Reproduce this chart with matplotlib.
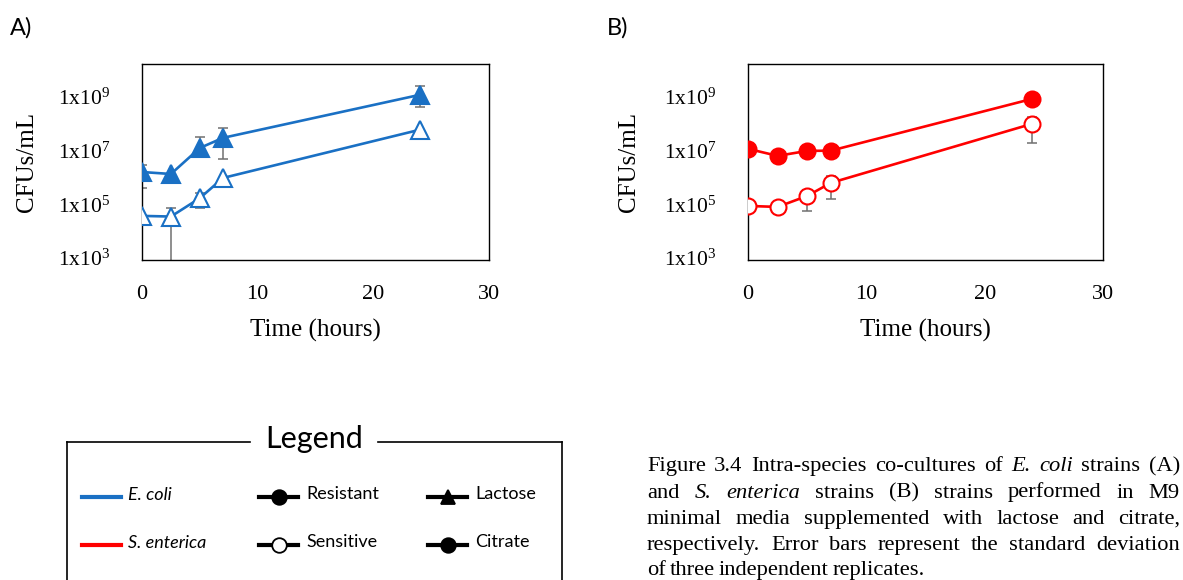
import numpy as np
import matplotlib
matplotlib.use("Agg")
from matplotlib import pyplot as plt
from matplotlib.lines import Line2D

plt.rcParams['font.family'] = ['Liberation Serif', 'DejaVu Serif']
plt.rcParams['mathtext.fontset'] = 'custom'
plt.rcParams['mathtext.rm'] = 'Liberation Serif'

W, H = 1183, 580

hours = [0, 2.5, 5, 7, 24]

# E. coli on lactose
ecoli_res = [1.6e6, 1.35e6, 1.26e7, 3.0e7, 1.2e9]
ecoli_res_lo = [1.2e6, 0, 5.0e6, 2.5e7, 7.7e8]
ecoli_res_hi = [1.2e6, 0, 2.0e7, 4.1e7, 1.4e9]
ecoli_sen = [3.7e4, 3.5e4, 1.7e5, 9.6e5, 6.0e7]
ecoli_sen_lo = [0, 3.5e4, 1.0e5, 0, 0]
ecoli_sen_hi = [0, 3.9e4, 1.0e5, 0, 0]

# S. enterica on citrate
sent_res = [1.17e7, 6.4e6, 9.8e6, 1.0e7, 8.5e8]
sent_res_lo = [0, 0, 0, 0, 0]
sent_res_hi = [0, 0, 0, 0, 0]
sent_sen = [8.7e4, 8.0e4, 2.05e5, 6.3e5, 1.0e8]
sent_sen_lo = [0, 0, 1.5e5, 4.7e5, 8.0e7]
sent_sen_hi = [0, 0, 1.5e5, 4.7e5, 8.0e7]

yticks = [1e3, 1e5, 1e7, 1e9]
ytick_labels = [r'$\mathregular{1x10^{3}}$', r'$\mathregular{1x10^{5}}$',
                r'$\mathregular{1x10^{7}}$', r'$\mathregular{1x10^{9}}$']
xticks = [0, 10, 20, 30]

BLUE = '#1a70c4'
RED = '#ff0000'
GREY = '#707070'

fig = plt.figure(figsize=(W / 100, H / 100), dpi=100)


def px_axes(x0, y0, x1, y1):
    return fig.add_axes([x0 / W, 1 - y1 / H, (x1 - x0) / W, (y1 - y0) / H])


def series(ax, y, lo, hi, color, marker, filled, ms):
    y = np.array(y)
    lo = np.array(lo)
    hi = np.array(hi)
    x = np.array(hours)
    m = (lo > 0) | (hi > 0)
    if m.any():
        ax.errorbar(x[m], y[m], yerr=[lo[m], hi[m]], fmt='none', ecolor=GREY,
                    elinewidth=1.1, capsize=3.5, capthick=1.1, zorder=1)
    ax.plot(x, y, color=color, lw=1.9, marker=marker, ms=ms,
            mfc=color if filled else 'white', mec=color, mew=1.5, zorder=3)


def style_axes(ax, label_x):
    ax.set_yscale('log')
    ax.set_xlim(0, 30)
    ax.set_ylim(8.4e2, 1.7e10)
    ax.set_yticks(yticks)
    ax.set_yticklabels(ytick_labels)
    ax.minorticks_off()
    ax.set_xticks(xticks)
    ax.tick_params(axis='y', length=0, pad=23, labelsize=15.5)
    ax.tick_params(axis='x', length=0, pad=18, labelsize=16)
    for s in ax.spines.values():
        s.set_linewidth(1.0)
    ax.set_xlabel("Time (hours)", fontsize=18, labelpad=11)
    ax.set_ylabel("CFUs/mL", fontsize=18)
    ax.yaxis.set_label_coords(label_x, 0.5)


axA = px_axes(142, 64, 489, 260)
series(axA, ecoli_res, ecoli_res_lo, ecoli_res_hi, BLUE, '^', True, 13)
series(axA, ecoli_sen, ecoli_sen_lo, ecoli_sen_hi, BLUE, '^', False, 13)
style_axes(axA, -0.30)

axB = px_axes(748, 64, 1103, 260)
series(axB, sent_res, sent_res_lo, sent_res_hi, RED, 'o', True, 11.5)
series(axB, sent_sen, sent_sen_lo, sent_sen_hi, RED, 'o', False, 11.5)
style_axes(axB, -0.305)

fig.text(10 / W, 1 - 28 / H, "A)", family='Lato', fontsize=17, va='center')
fig.text(607 / W, 1 - 28 / H, "B)", family='Lato', fontsize=17, va='center')


# legend panel, drawn in figure pixels
def fx(x):
    return x / W


def fy(y):
    return 1 - y / H


box_l, box_r, box_t = 67, 562, 442
for seg in [(box_l, 250), (378, box_r)]:
    fig.add_artist(Line2D([fx(seg[0]), fx(seg[1])], [fy(box_t), fy(box_t)],
                          color='black', lw=1.2))
fig.add_artist(Line2D([fx(box_l), fx(box_l)], [fy(box_t), fy(600)], color='black', lw=1.2))
fig.add_artist(Line2D([fx(box_r), fx(box_r)], [fy(box_t), fy(600)], color='black', lw=1.2))
fig.text(fx(314), fy(439), "Legend", family='Lato', fontsize=22, ha='center', va='center')

leg_rows = [497, 545]
fig.add_artist(Line2D([fx(82), fx(121)], [fy(leg_rows[0])] * 2, color=BLUE, lw=3))
fig.add_artist(Line2D([fx(82), fx(121)], [fy(leg_rows[1])] * 2, color=RED, lw=3))
fig.text(fx(128), fy(leg_rows[0] - 2), "E. coli", family='Lato', style='italic', fontsize=13, va='center')
fig.text(fx(128), fy(leg_rows[1] - 2), "S. enterica", family='Lato', style='italic', fontsize=13, va='center')

sym = [
    (259, leg_rows[0], 'o', 'black', "Resistant"),
    (259, leg_rows[1], 'o', 'white', "Sensitive"),
    (428, leg_rows[0], '^', 'black', "Lactose"),
    (428, leg_rows[1], 'o', 'black', "Citrate"),
]
for x0, yy, mk, fc, txt in sym:
    fig.add_artist(Line2D([fx(x0), fx(x0 + 39)], [fy(yy)] * 2, color='black', lw=3))
    fig.add_artist(Line2D([fx(x0 + 19.5)], [fy(yy)], marker=mk, ms=10.5,
                          mfc=fc, mec='black', mew=1.3, ls='none'))
    fig.text(fx(x0 + 47), fy(yy - 3), txt, family='Lato', fontsize=13, va='center')

# caption, justified between two x positions
cap_lines = [
    [("Figure", 0), ("3.4", 0), ("Intra-species", 0), ("co-cultures", 0), ("of", 0),
     ("E.", 1), ("coli", 1), ("strains", 0), ("(A)", 0)],
    [("and", 0), ("S.", 1), ("enterica", 1), ("strains", 0), ("(B)", 0), ("strains", 0),
     ("performed", 0), ("in", 0), ("M9", 0)],
    [("minimal", 0), ("media", 0), ("supplemented", 0), ("with", 0), ("lactose", 0),
     ("and", 0), ("citrate,", 0)],
    [("respectively.", 0), ("Error", 0), ("bars", 0), ("represent", 0), ("the", 0),
     ("standard", 0), ("deviation", 0)],
    [("of", 0), ("three", 0), ("independent", 0), ("replicates.", 0)],
]
cap_left, cap_right = 647, 1180
cap_base = [471, 497.5, 524, 550, 575]
renderer = fig.canvas.get_renderer()
for i, words in enumerate(cap_lines):
    texts = []
    for w, it in words:
        t = fig.text(0, fy(cap_base[i]), w, fontsize=16.2, va='baseline',
                     style='italic' if it else 'normal')
        texts.append(t)
    widths = [t.get_window_extent(renderer).width for t in texts]
    if i < len(cap_lines) - 1:
        gap = max((cap_right - cap_left - sum(widths)) / (len(words) - 1), 2.5)
    else:
        gap = 4.0
    x = cap_left
    for t, wd in zip(texts, widths):
        t.set_x(fx(x))
        x += wd + gap

fig.savefig("out.png", dpi=100)
